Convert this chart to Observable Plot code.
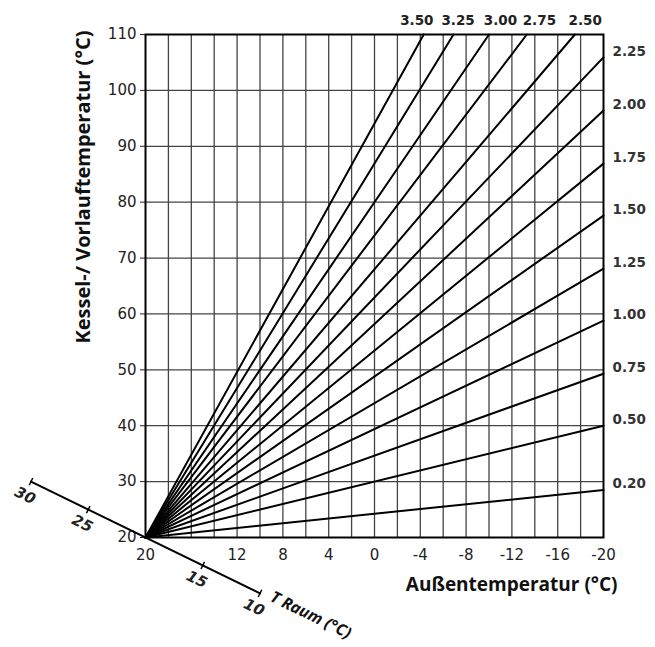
<!DOCTYPE html>
<html>
<head>
<meta charset="utf-8">
<script src="https://cdn.jsdelivr.net/npm/d3@7"></script>
<script src="https://cdn.jsdelivr.net/npm/@observablehq/plot@0.6"></script>
<style>
  html, body { margin: 0; padding: 0; background: white; }
</style>
</head>
<body>
<div id="chart"></div>
<script>
// Heating curve slopes (labels) and where each line ends
const curveNames = ["0.20","0.50","0.75","1.00","1.25","1.50","1.75","2.00","2.25","2.50","2.75","3.00","3.25","3.50"];
const endTemp    = [-20, -20, -20, -20, -20, -20, -20, -20, -20, -17.5, -13.3, -10, -6.9, -4.3];
const endFlow    = [28.5, 40, 49.3, 58.8, 68.1, 77.6, 86.9, 96.4, 105.9, 110, 110, 110, 110, 110];
const topLabelTemp = [null, null, null, null, null, null, null, null, null, -18.4, -14.4, -11.0, -7.3, -3.7];
const startTemp = 20, startFlow = 20;

const xTicks = [20, 12, 8, 4, 0, -4, -8, -12, -16, -20];
const yTicks = [20, 30, 40, 50, 60, 70, 80, 90, 100, 110];
const xGrid = [18, 16, 14, 12, 10, 8, 6, 4, 2, 0, -2, -4, -6, -8, -10, -12, -14, -16, -18];
const yGrid = [30, 40, 50, 60, 70, 80, 90, 100];
const roomTicks = [30, 25, 15, 10];
const roomAxisEnds = [30, 10];

const yTitle = "Kessel-/ Vorlauftemperatur (°C)";
const xTitle = "Außentemperatur (°C)";
const roomTitle = "T Raum (°C)";

const W = 655, H = 647, ML = 145, MR = 52, MT = 34, MB = 110;
const pxPerX = (W - ML - MR) / 40, pxPerY = (H - MT - MB) / 90;
const angle = Math.atan(pxPerY / pxPerX) * 180 / Math.PI;
const rad = angle * Math.PI / 180;
const perp = [Math.sin(rad), -Math.cos(rad)];
const tickSymbol = {
  draw(ctx, size) {
    const l = Math.sqrt(size / Math.PI);
    ctx.moveTo(perp[0] * l, perp[1] * l);
    ctx.lineTo(-perp[0] * l, -perp[1] * l);
  }
};

const curvePoints = curveNames.flatMap((name, i) => [
  {name, t: startTemp, v: startFlow},
  {name, t: endTemp[i], v: endFlow[i]}
]);
const curveEnds = curveNames.map((name, i) => ({name, t: endTemp[i], v: endFlow[i], lt: topLabelTemp[i]}));

const titleFont = "'Open Sans', 'DejaVu Sans', sans-serif";

const chart = Plot.plot({
  width: W, height: H,
  marginLeft: ML, marginRight: MR, marginTop: MT, marginBottom: MB,
  x: {domain: [20, -20]},
  y: {domain: [20, 110]},
  style: {fontFamily: "'DejaVu Sans', sans-serif", fontSize: "15px", color: "#222", background: "white", overflow: "visible"},
  marks: [
    Plot.gridX(xGrid, {stroke: "#444", strokeOpacity: 1, strokeWidth: 1.3}),
    Plot.gridY(yGrid, {stroke: "#444", strokeOpacity: 1, strokeWidth: 1.3}),
    Plot.line(curvePoints, {x: "t", y: "v", z: "name", stroke: "black", strokeWidth: 2}),
    Plot.frame({stroke: "black", strokeWidth: 2}),
    Plot.axisX(xTicks, {tickSize: 0, tickPadding: 12, tickFormat: d => String(d), label: null, fontSize: 15}),
    Plot.axisY(yTicks, {tickSize: 5, tickPadding: 4, label: null, fontSize: 15}),
    // right labels
    Plot.text(curveEnds.filter(d => d.t === -20), {x: "t", y: "v", text: "name", textAnchor: "start", dx: 9, dy: -6, fill: "#333", fontWeight: "bold", fontSize: 13.5}),
    // top labels
    Plot.text(curveEnds.filter(d => d.lt != null), {x: "lt", y: "v", text: "name", dy: -14, fill: "#222", fontWeight: "bold", fontSize: 13.5}),
    // T Raum diagonal axis
    Plot.line(roomAxisEnds, {x: d => d, y: d => d, stroke: "black", strokeWidth: 2}),
    Plot.dot(roomTicks, {x: d => d, y: d => d, symbol: tickSymbol, r: 4, stroke: "black", strokeWidth: 1.5, fill: "none"}),
    Plot.text(roomTicks, {x: d => d, y: d => d, text: d => String(d), dx: -6, dy: 14, rotate: angle, fontStyle: "italic", fontWeight: "bold", fontSize: 15, fill: "#222"}),
    Plot.text([roomTitle], {x: 9.0, y: 9.0, text: d => d, textAnchor: "start", dy: -3, rotate: angle, fontStyle: "italic", fontWeight: "bold", fontSize: 16, fontFamily: titleFont, fill: "#111"}),
    // axis titles
    Plot.text([yTitle], {frameAnchor: "top-left", text: d => d, dx: -70, dy: -4, rotate: -90, textAnchor: "end", fontWeight: "bold", fontSize: 20, fontFamily: titleFont, fill: "#111"}),
    Plot.text([xTitle], {frameAnchor: "bottom-right", text: d => d, dx: 14, dy: 53, textAnchor: "end", fontWeight: "bold", fontSize: 19, fontFamily: titleFont, fill: "#111"})
  ]
});
document.getElementById("chart").appendChild(chart);
</script>
</body>
</html>
